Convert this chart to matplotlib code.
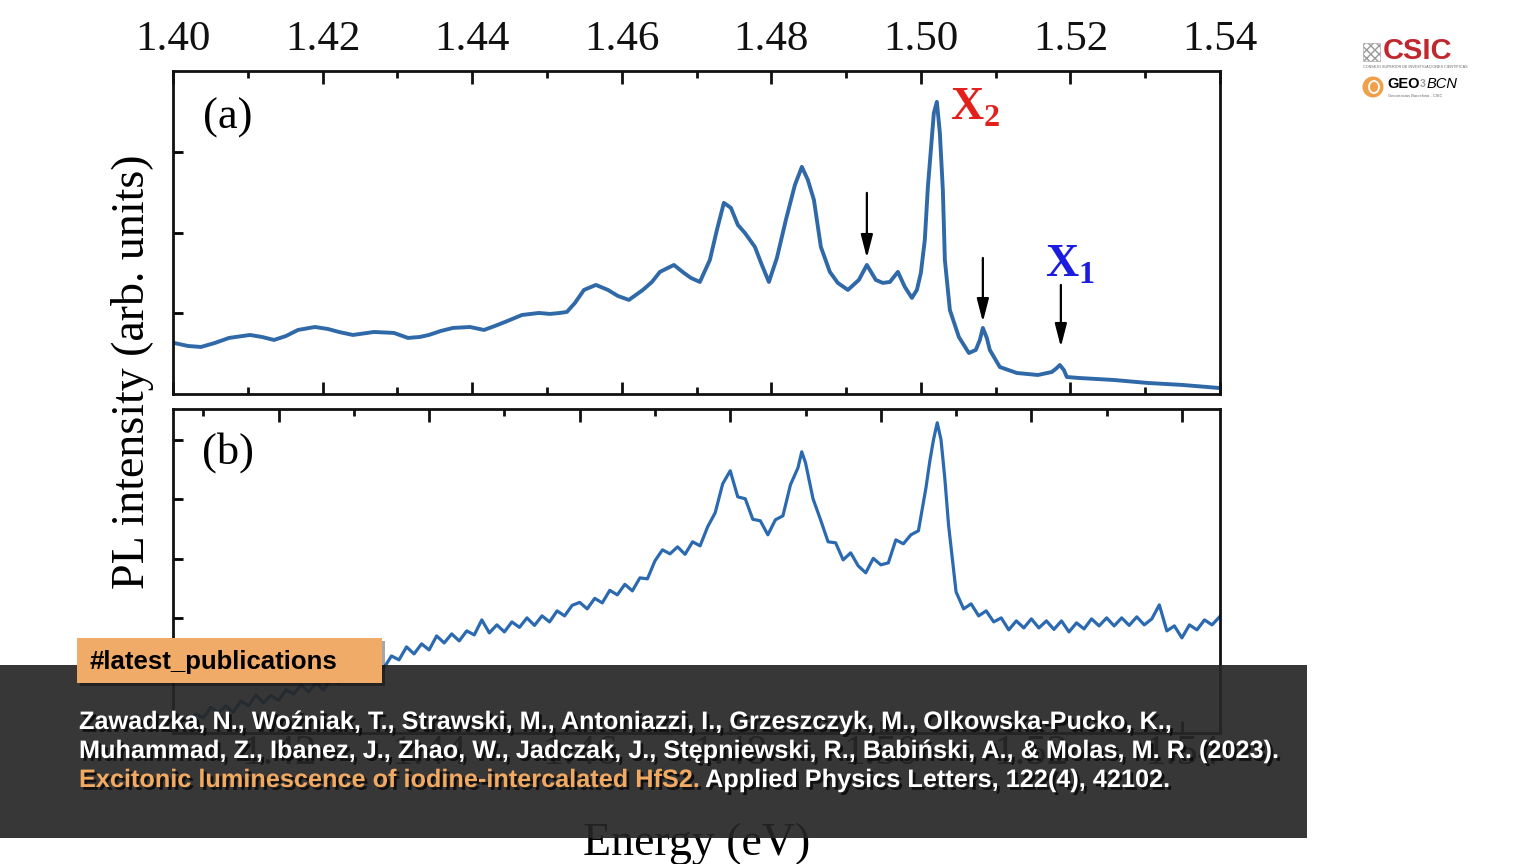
import matplotlib
matplotlib.use("Agg")
import matplotlib.pyplot as plt
from matplotlib.patches import Rectangle, Ellipse
from matplotlib.ticker import MultipleLocator
from matplotlib.text import Annotation
import matplotlib.patheffects as pe

# ---------------- data ----------------
# Panel (a): PL spectrum (arb. units) vs energy (eV)
energy_a = [1.40013, 1.40201, 1.40374, 1.40561, 1.40749, 1.41029, 1.41190, 1.41350, 1.41511, 1.41671,
            1.41898, 1.42072, 1.42219, 1.42406, 1.42687, 1.42955, 1.43142, 1.43302, 1.43422, 1.43583,
            1.43743, 1.43971, 1.44158, 1.44305, 1.44439, 1.44666, 1.44893, 1.45040, 1.45174, 1.45267,
            1.45374, 1.45495, 1.45655, 1.45816, 1.45949, 1.46096, 1.46283, 1.46404, 1.46511, 1.46698,
            1.46832, 1.46925, 1.47045, 1.47179, 1.47273, 1.47366, 1.47460, 1.47553, 1.47647, 1.47781,
            1.47874, 1.47968, 1.48075, 1.48195, 1.48316, 1.48409, 1.48489, 1.48570, 1.48663, 1.48783,
            1.48890, 1.49024, 1.49171, 1.49278, 1.49398, 1.49492, 1.49586, 1.49693, 1.49786, 1.49880,
            1.49947, 1.50000, 1.50053, 1.50094, 1.50134, 1.50174, 1.50214, 1.50254, 1.50294, 1.50321,
            1.50388, 1.50508, 1.50642, 1.50735, 1.50789, 1.50829, 1.50882, 1.50922, 1.51056, 1.51283,
            1.51564, 1.51751, 1.51818, 1.51858, 1.51912, 1.51952, 1.52112, 1.52580, 1.53035, 1.53503,
            1.53984]
intensity_a = [0.634, 0.596, 0.584, 0.634, 0.696, 0.733, 0.708, 0.671, 0.720, 0.795,
               0.832, 0.807, 0.770, 0.733, 0.770, 0.758, 0.696, 0.708, 0.733, 0.783,
               0.820, 0.832, 0.795, 0.845, 0.894, 0.981, 1.006, 0.994, 1.006, 1.019,
               1.130, 1.292, 1.354, 1.292, 1.217, 1.168, 1.292, 1.391, 1.516, 1.602,
               1.503, 1.441, 1.391, 1.665, 2.037, 2.373, 2.311, 2.099, 2.000, 1.826,
               1.602, 1.391, 1.689, 2.161, 2.596, 2.820, 2.658, 2.410, 1.826, 1.516,
               1.379, 1.292, 1.416, 1.602, 1.416, 1.379, 1.391, 1.516, 1.329, 1.193,
               1.292, 1.503, 1.913, 2.571, 3.031, 3.491, 3.627, 3.242, 2.534, 1.665,
               1.043, 0.708, 0.509, 0.547, 0.671, 0.820, 0.696, 0.547, 0.335, 0.261,
               0.236, 0.273, 0.323, 0.360, 0.298, 0.211, 0.199, 0.174, 0.137, 0.112,
               0.075]

# Panel (b): PL spectrum (arb. units) vs energy (eV)
energy_b = [1.406, 1.407, 1.408, 1.409, 1.410, 1.411, 1.412, 1.413, 1.414, 1.415,
            1.416, 1.417, 1.418, 1.419, 1.420, 1.421, 1.422, 1.423, 1.424, 1.425,
            1.426, 1.427, 1.428, 1.429, 1.430, 1.431, 1.432, 1.433, 1.434, 1.435,
            1.436, 1.437, 1.438, 1.439, 1.440, 1.441, 1.442, 1.443, 1.444, 1.445,
            1.446, 1.447, 1.448, 1.449, 1.450, 1.451, 1.452, 1.453, 1.454, 1.455,
            1.456, 1.457, 1.458, 1.459, 1.460, 1.461, 1.462, 1.463, 1.464, 1.465,
            1.466, 1.467, 1.468, 1.469, 1.470, 1.471, 1.472, 1.473, 1.474, 1.475,
            1.476, 1.477, 1.478, 1.479, 1.480, 1.481, 1.482, 1.483, 1.484, 1.485,
            1.486, 1.487, 1.488, 1.489, 1.4895,
            1.490, 1.491, 1.492, 1.493, 1.494, 1.495, 1.496, 1.497, 1.498, 1.499,
            1.500, 1.501, 1.502, 1.503, 1.504, 1.505,
            1.506, 1.5065, 1.507, 1.5075, 1.508, 1.5085,
            1.509, 1.510, 1.511, 1.512, 1.513, 1.514, 1.515,
            1.516, 1.517, 1.518, 1.519, 1.520, 1.521, 1.522, 1.523, 1.524, 1.525,
            1.526, 1.527, 1.528, 1.529, 1.530, 1.531, 1.532, 1.533, 1.534, 1.535,
            1.536, 1.537, 1.538, 1.539, 1.540, 1.541, 1.542, 1.543, 1.544, 1.545]
intensity_b = [0.187, 0.331, 0.221, 0.381, 0.314, 0.491, 0.406, 0.516, 0.415, 0.600,
               0.516, 0.702, 0.567, 0.693, 0.609, 0.786, 0.718, 0.870, 0.752, 0.904,
               0.786, 0.980, 0.895, 1.072, 0.971, 1.123, 1.022, 1.207, 1.157, 1.359,
               1.292, 1.511, 1.393, 1.562, 1.460, 1.696, 1.578, 1.730, 1.612, 1.781,
               1.713, 1.966, 1.747, 1.882, 1.764, 1.932, 1.840, 2.000, 1.873, 2.034,
               1.932, 2.118, 2.034, 2.211, 2.261, 2.152, 2.329, 2.253, 2.464, 2.388,
               2.565, 2.455, 2.674, 2.658, 2.961, 3.147, 3.079, 3.197, 3.071, 3.282,
               3.214, 3.535, 3.771, 4.260, 4.479, 4.040, 4.007, 3.661, 3.636, 3.400,
               3.653, 3.720, 4.243, 4.530, 4.799,
               4.614, 4.007, 3.653, 3.282, 3.265, 2.978, 3.096, 2.877, 2.759, 3.003,
               2.894, 2.927, 3.315, 3.248, 3.400, 3.467,
               4.192, 4.631, 5.002, 5.288, 5.002, 4.361,
               3.568, 2.438, 2.152, 2.236, 2.034, 2.118, 1.932,
               2.000, 1.798, 1.949, 1.831, 1.983, 1.831, 1.949, 1.806, 1.949, 1.764,
               1.916, 1.814, 1.983, 1.865, 2.000, 1.865, 2.000, 1.873, 2.017, 1.882,
               1.983, 2.219, 1.781, 1.865, 1.663, 1.882, 1.798, 1.966, 1.882, 2.017]

xtick_values = [1.40, 1.42, 1.44, 1.46, 1.48, 1.50, 1.52, 1.54]
xtick_labels = ["1.40", "1.42", "1.44", "1.46", "1.48", "1.50", "1.52", "1.54"]
yticks_a = [1, 2, 3]
yticks_b = [2, 3, 4, 5]

# arrows in panel (a): energy, tail intensity, head intensity
arrow_energy = [1.49278, 1.50829, 1.51872]
arrow_tail = [2.497, 1.689, 1.354]
arrow_head = [1.689, 0.894, 0.584]

citation_l1 = "Zawadzka, N., Woźniak, T., Strawski, M., Antoniazzi, I., Grzeszczyk, M., Olkowska-Pucko, K.,"
citation_l2 = "Muhammad, Z., Ibanez, J., Zhao, W., Jadczak, J., Stępniewski, R., Babiński, A., & Molas, M. R. (2023)."
citation_title = "Excitonic luminescence of iodine-intercalated HfS2."
citation_journal = " Applied Physics Letters, 122(4), 42102."

# ---------------- style ----------------
plt.rcParams['font.family'] = ['Liberation Serif', 'DejaVu Serif']
plt.rcParams['mathtext.fontset'] = 'custom'
plt.rcParams['mathtext.rm'] = 'Liberation Serif'
plt.rcParams['mathtext.bf'] = 'Liberation Serif:bold'

W, H = 1536, 864
def fx(px):
    return px / W
def fy(py):
    return 1 - py / H

fig = plt.figure(figsize=(15.36, 8.64), dpi=100)
fig.patch.set_facecolor('white')

ax_a = fig.add_axes([fx(173), fy(394), fx(1220) - fx(173), fy(71) - fy(394)])
ax_b = fig.add_axes([fx(173), fy(733), fx(1220) - fx(173), fy(409) - fy(733)])

ax_a.plot(energy_a, intensity_a, color='#2f69a8', lw=2.8, solid_joinstyle='round')
ax_b.plot(energy_b, intensity_b, color='#2b6ab0', lw=2.3, solid_joinstyle='round')

for ax in (ax_a, ax_b):
    for s in ax.spines.values():
        s.set_linewidth(2.0)
        s.set_color('#111111')
    ax.set_xticks(xtick_values, labels=xtick_labels)
    ax.xaxis.set_minor_locator(MultipleLocator(0.01))
    ax.tick_params(axis='x', which='both', direction='in', top=True, bottom=True,
                   width=2.0, labelsize=31, colors='#111111')
    ax.tick_params(axis='x', which='major', length=9)
    ax.tick_params(axis='x', which='minor', length=5)
    ax.tick_params(axis='y', which='major', direction='in', left=True, right=False,
                   labelleft=False, length=7, width=2.0)

ax_a.set_yticks(yticks_a)
ax_b.set_yticks(yticks_b)
ax_a.tick_params(axis='x', labeltop=True, labelbottom=False, pad=9)
ax_b.tick_params(axis='x', labeltop=False, labelbottom=True, pad=1)
ax_a.set_xlim(1.40, 1.54)
ax_a.set_ylim(0, 4.01)
ax_b.set_xlim(1.40598, 1.54506)
ax_b.set_ylim(0.06, 5.52)

ax_b.set_xlabel("Energy (eV)", fontsize=33, labelpad=36)
fig.text(fx(133), fy(372), "PL intensity (arb. units)", rotation=90,
         ha='center', va='center', fontsize=33)

ax_a.text(1.40735, 3.429, "(a)", fontsize=32, ha='center', va='center')
ax_b.text(1.41328, 4.783, "(b)", fontsize=32, ha='center', va='center')

ax_a.text(1.50388, 3.404, r'$\mathbf{X}_{\mathbf{2}}$', color='#e3211c', fontsize=33,
          ha='left', va='baseline')
ax_a.text(1.51658, 1.453, r'$\mathbf{X}_{\mathbf{1}}$', color='#1c1ce0', fontsize=33,
          ha='left', va='baseline')

for e, t, h in zip(arrow_energy, arrow_tail, arrow_head):
    ax_a.annotate('', xy=(e, h), xytext=(e, t),
                  arrowprops=dict(arrowstyle='-|>,head_length=0.7,head_width=0.18',
                                  color='black', lw=1.6, shrinkA=0, shrinkB=0,
                                  mutation_scale=20))

# ---------------- overlay (banner, tag, logos) ----------------
banner = Rectangle((0, fy(838)), fx(1307), fy(665) - fy(838), transform=fig.transFigure,
                   facecolor='#262626', alpha=0.92, edgecolor='none', zorder=10)
fig.add_artist(banner)

tag_shadow = Rectangle((fx(80), fy(686)), fx(382) - fx(77), fy(638) - fy(683),
                       transform=fig.transFigure, facecolor='black', alpha=0.35,
                       edgecolor='none', zorder=11)
fig.add_artist(tag_shadow)
tag = Rectangle((fx(77), fy(683)), fx(382) - fx(77), fy(638) - fy(683),
                transform=fig.transFigure, facecolor='#f0ab69', edgecolor='none', zorder=12)
fig.add_artist(tag)
fig.text(fx(90), fy(662), "#latest_publications", family=['Liberation Sans', 'DejaVu Sans'],
         fontweight='bold', fontsize=18.5, color='black', ha='left', va='center', zorder=13)

shadow = [pe.withSimplePatchShadow(offset=(2, -2), shadow_rgbFace='black', alpha=0.7)]
cite_kw = dict(family=['Liberation Sans', 'DejaVu Sans'], fontweight='bold', fontsize=18.2,
               ha='left', zorder=13, path_effects=shadow)
fig.text(fx(79), fy(722), citation_l1, color='white', va='center', **cite_kw)
fig.text(fx(79), fy(751), citation_l2, color='white', va='center', **cite_kw)
t_title = fig.text(fx(79), fy(780), citation_title, color='#f2aa63', va='center', **cite_kw)
t_journal = Annotation(citation_journal, xy=(1, 0), xycoords=t_title, va='bottom',
                       color='white', **cite_kw)
fig.add_artist(t_journal)

# CSIC logo
emblem = Rectangle((fx(1363), fy(61)), fx(17), fy(43) - fy(61), transform=fig.transFigure,
                   facecolor='white', edgecolor='#9a9a9a', hatch='xxxx', lw=0.4, zorder=5)
fig.add_artist(emblem)
fig.text(fx(1383), fy(51), "CSIC", family=['Liberation Sans', 'DejaVu Sans'], fontweight='bold',
         fontsize=21, color='#c0282e', ha='left', va='center')
fig.text(fx(1363), fy(67), "CONSEJO SUPERIOR DE INVESTIGACIONES CIENTÍFICAS",
         family=['Liberation Sans', 'DejaVu Sans'], fontsize=2.7, color='#666666',
         ha='left', va='center')
# GEO3BCN logo
fig.add_artist(Ellipse((fx(1373), fy(87)), 21 / W, 21 / H, transform=fig.transFigure,
                       facecolor='#f0a04b', edgecolor='none', zorder=5))
fig.add_artist(Ellipse((fx(1374), fy(87)), 10 / W, 12 / H, transform=fig.transFigure,
                       facecolor='none', edgecolor='white', lw=1.3, zorder=6))
fig.text(fx(1387), fy(84), "GEO", family=['Liberation Sans', 'DejaVu Sans'], fontweight='bold',
         fontsize=10.5, color='black', ha='left', va='center')
fig.text(fx(1420), fy(84), "3", family=['Liberation Sans', 'DejaVu Sans'], fontweight='bold',
         fontsize=7.5, color='#999999', ha='left', va='center')
fig.text(fx(1427), fy(84), "BCN", family=['Liberation Sans', 'DejaVu Sans'], style='italic',
         fontsize=10.5, color='black', ha='left', va='center')
fig.text(fx(1388), fy(96), "Geociencias Barcelona - CSIC", family=['Liberation Sans', 'DejaVu Sans'],
         fontsize=2.9, color='#666666', ha='left', va='center')

fig.savefig("out.png", dpi=100, facecolor='white')
